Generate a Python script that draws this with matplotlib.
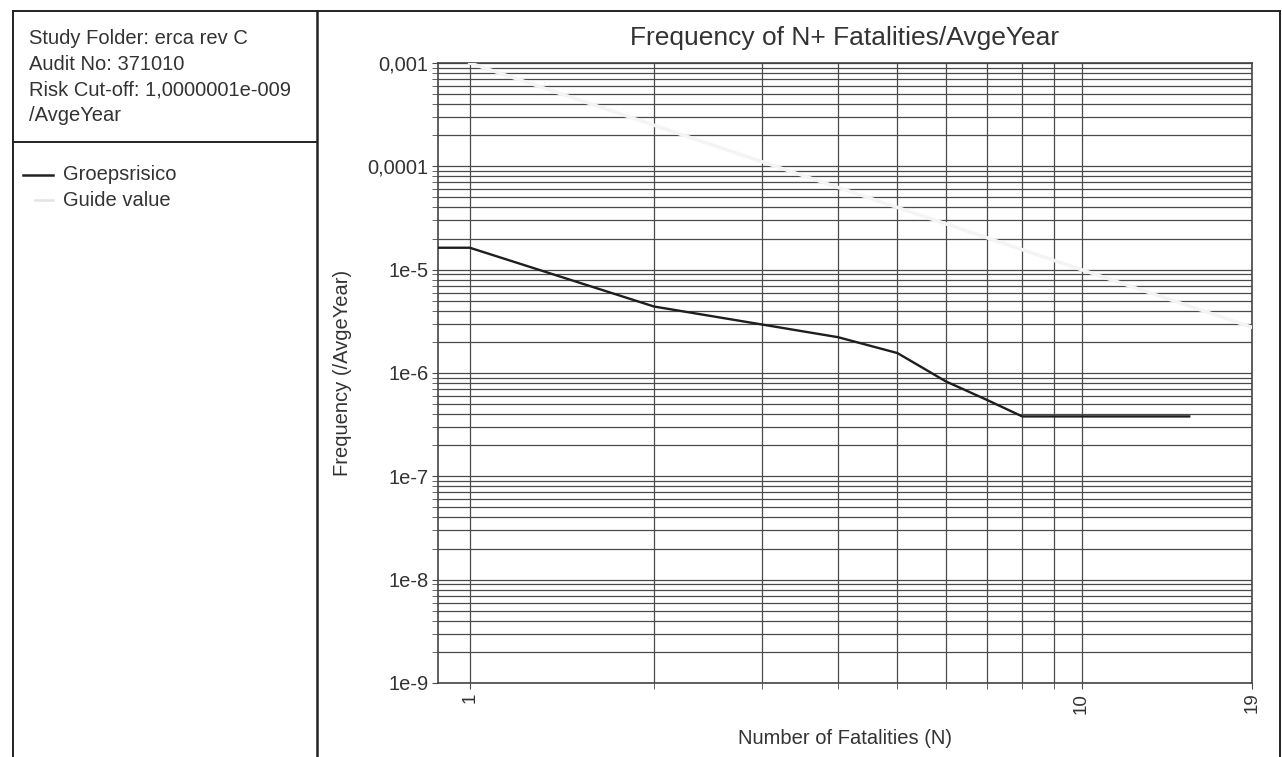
import numpy as np
import matplotlib.pyplot as plt
from matplotlib.lines import Line2D
from matplotlib.ticker import FixedLocator, NullFormatter

plt.rcParams['font.family'] = ['Liberation Sans', 'DejaVu Sans']

# Groepsrisico (FN curve)
fn_n = [0.5, 1, 2, 3, 4, 5, 6, 7, 8, 15]
fn_freq = [1.63e-5, 1.63e-5, 4.4e-6, 2.95e-6, 2.22e-6, 1.56e-6, 8.3e-7, 5.5e-7, 3.8e-7, 3.8e-7]

# Guide value (orientation line)
guide_n = [1, 19]
guide_freq = [1e-3, 2.77e-6]

y_ticks = [1e-3, 1e-4, 1e-5, 1e-6, 1e-7, 1e-8, 1e-9]
y_labels = ["0,001", "0,0001", "1e-5", "1e-6", "1e-7", "1e-8", "1e-9"]
x_ticks = [1, 10, 19]
x_labels = ["1", "10", "19"]
x_minor = [2, 3, 4, 5, 6, 7, 8, 9]

info_lines = ["Study Folder: erca rev C", "Audit No: 371010",
              "Risk Cut-off: 1,0000001e-009", "/AvgeYear"]

W, H = 1282, 757
fig = plt.figure(figsize=(W / 100, H / 100), dpi=100)
txt = '#333333'
grid_c = '#4a4a4a'
fs = 14.5

ax = fig.add_axes([438 / W, 1 - 683 / H, (1252 - 438) / W, (683 - 63) / H])
ax.set_xscale('log')
ax.set_yscale('log')
ax.set_xlim(0.887, 19)
ax.set_ylim(1e-9, 1e-3)

ax.plot(guide_n, guide_freq, color='#f4f4f4', lw=2.5, zorder=3)
ax.plot(fn_n, fn_freq, color='#1e1e1e', lw=1.7, zorder=4)

ax.xaxis.set_major_locator(FixedLocator(x_ticks))
ax.set_xticklabels(x_labels, rotation=90, color=txt, fontsize=13.5)
ax.xaxis.set_minor_locator(FixedLocator(x_minor))
ax.xaxis.set_minor_formatter(NullFormatter())
ax.yaxis.set_major_locator(FixedLocator(y_ticks))
ax.set_yticklabels(y_labels, color=txt, fontsize=fs)
ymin = [m * 10.0 ** e for e in range(-9, -3) for m in range(2, 10)]
ax.yaxis.set_minor_locator(FixedLocator(ymin))
ax.yaxis.set_minor_formatter(NullFormatter())

ax.grid(which='both', color=grid_c, lw=0.9)
ax.tick_params(which='both', length=4, color=grid_c, direction='out', pad=3)
for s in ax.spines.values():
    s.set_color('#444444')
    s.set_linewidth(1.2)

ax.text(0.5, (683 - 38) / 620, "Frequency of N+ Fatalities/AvgeYear", transform=ax.transAxes,
        ha='center', va='center', fontsize=19, color=txt)
ax.set_xlabel("Number of Fatalities (N)", fontsize=fs, color=txt)
ax.xaxis.set_label_coords(0.5, -(738 - 683) / 620)
ax.xaxis.label.set_va('center')
ax.set_ylabel("Frequency (/AvgeYear)", fontsize=fs, color=txt)
ax.yaxis.set_label_coords(-(438 - 343) / 814, 0.5)
ax.yaxis.label.set_va('center')

# frame around the whole sheet and the left info panel
def fline(x0, y0, x1, y1, lw=1.4, color='#222222'):
    fig.add_artist(Line2D([x0 / W, x1 / W], [1 - y0 / H, 1 - y1 / H],
                          color=color, lw=lw))

fline(13, 11, 1280, 11)
fline(13, 11, 13, 757)
fline(317, 11, 317, 757, lw=1.8)
fline(1280, 11, 1280, 757)
fline(13, 142, 317, 142)

for i, line in enumerate(info_lines):
    fig.text(29 / W, 1 - (39 + i * 25.5) / H, line, fontsize=fs, color=txt, va='center')

fline(23, 175, 53, 175, lw=1.8)
fig.text(63 / W, 1 - 175 / H, "Groepsrisico", fontsize=fs, color=txt, va='center')
fline(35, 200, 53, 200, lw=1.8, color='#e4e4e4')
fig.text(63 / W, 1 - 200 / H, "Guide value", fontsize=fs, color=txt, va='center')

fig.savefig('out.png', dpi=100)
